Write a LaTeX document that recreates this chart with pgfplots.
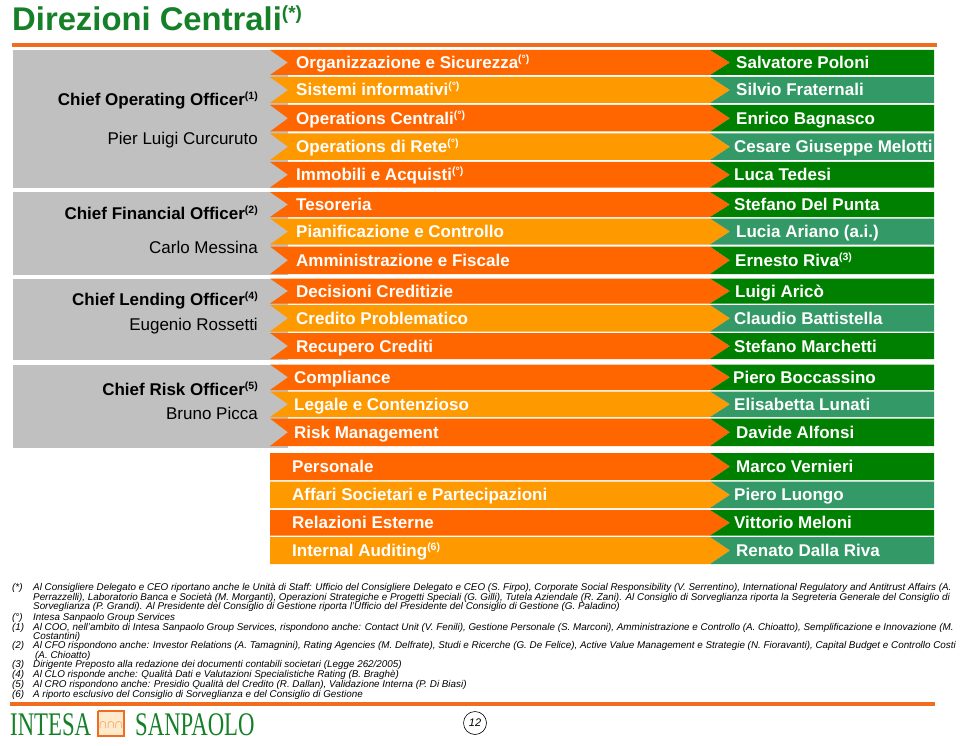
\documentclass[border=0pt]{standalone}
\usepackage{pgfplots}
\pgfplotsset{compat=1.18}
\usepackage{fontspec}
\setmainfont{Liberation Sans}
\newfontfamily\logofont{Liberation Serif}[FakeStretch=0.69]
\definecolor{oDark}{RGB}{255,102,0}
\definecolor{oLight}{RGB}{255,153,0}
\definecolor{gDark}{RGB}{0,128,0}
\definecolor{gLight}{RGB}{51,153,102}
\definecolor{cGray}{RGB}{192,192,192}
\definecolor{tGreen}{RGB}{22,128,40}
\definecolor{lOrange}{RGB}{240,108,30}
\newcommand\barfont{\fontsize{17}{20}\selectfont\bfseries}
\newcommand\sups[1]{\raisebox{6pt}{\fontsize{10.5}{11}\selectfont #1}}
% orange chevron bar: top, centre, bottom, colour
\newcommand\obar[4]{\addplot[fill=#4,draw=none] coordinates {(270,#1) (710,#1) (730,#2) (710,#3) (270,#3) (288,#2)};}
\newcommand\fbar[4]{\addplot[fill=#4,draw=none] coordinates {(270,#1) (710,#1) (730,#2) (710,#3) (270,#3)};}
\newcommand\gbar[4]{\addplot[fill=#4,draw=none] coordinates {(710,#1) (934,#1) (934,#3) (710,#3) (730,#2)};}
\newcommand\btext[3]{\node[anchor=base west,inner sep=0,text=white,font=\barfont] at (axis cs:#1,#2) {#3};}
\newcommand\ltext[3]{\node[anchor=base east,inner sep=0,text=black,font=#1] at (axis cs:258,#2) {#3};}
\newcommand\fn[3]{\node[anchor=base west,inner sep=0,font=\fontsize{9.85}{10}\selectfont\itshape] at (axis cs:#1,#2) {#3};}
\begin{document}
\begin{tikzpicture}
\begin{axis}[width=960pt,height=746pt,scale only axis,
  xmin=0,xmax=960,ymin=0,ymax=746,y dir=reverse,hide axis,clip=false]
% frame of the page (invisible, fixes the picture's extent)
\addplot[draw=none,fill=none] coordinates {(0,0) (960,0) (960,746) (0,746)};
% title line
\addplot[draw=lOrange,line width=4pt] coordinates {(12,45) (937,45)};
\addplot[draw=lOrange,line width=4pt] coordinates {(10,704) (935,704)};
% gray boxes
\addplot[fill=cGray,draw=none] coordinates {(13,50) (288,50) (288,188) (13,188)};
\addplot[fill=cGray,draw=none] coordinates {(13,192) (288,192) (288,275) (13,275)};
\addplot[fill=cGray,draw=none] coordinates {(13,278.5) (288,278.5) (288,360) (13,360)};
\addplot[fill=cGray,draw=none] coordinates {(13,364.5) (288,364.5) (288,448) (13,448)};
% orange bars
\obar{50}{62.5}{75}{oDark}
\obar{77}{90}{103}{oLight}
\obar{105}{118.25}{131.5}{oDark}
\obar{133.5}{146.75}{160}{oLight}
\obar{162}{174.75}{187.5}{oDark}
\obar{192}{204.5}{217}{oDark}
\obar{218.5}{231.5}{244.5}{oLight}
\obar{246.5}{260.25}{274}{oDark}
\obar{278.5}{291}{303.5}{oDark}
\obar{305}{318.25}{331.5}{oLight}
\obar{333}{346}{359}{oDark}
\obar{364.5}{377.25}{390}{oDark}
\obar{391.5}{404.25}{417}{oLight}
\obar{418.5}{432.25}{446}{oDark}
\fbar{453}{466.5}{480}{oDark}
\fbar{481.5}{494.75}{508}{oLight}
\fbar{510}{522.75}{535.5}{oDark}
\fbar{537}{550.5}{564}{oLight}
% green bars
\gbar{50}{62.5}{75}{gDark}
\gbar{77}{90}{103}{gLight}
\gbar{105}{118.25}{131.5}{gDark}
\gbar{133.5}{146.75}{160}{gLight}
\gbar{162}{174.75}{187.5}{gDark}
\gbar{192}{204.5}{217}{gDark}
\gbar{218.5}{231.5}{244.5}{gLight}
\gbar{246.5}{260.25}{274}{gDark}
\gbar{278.5}{291}{303.5}{gDark}
\gbar{305}{318.25}{331.5}{gLight}
\gbar{333}{346}{359}{gDark}
\gbar{364.5}{377.25}{390}{gDark}
\gbar{391.5}{404.25}{417}{gLight}
\gbar{418.5}{432.25}{446}{gDark}
\gbar{453}{466.5}{480}{gDark}
\gbar{481.5}{494.75}{508}{gLight}
\gbar{510}{522.75}{535.5}{gDark}
\gbar{537}{550.5}{564}{gLight}
% logo box
\addplot[draw=lOrange,fill=oLight!20,line width=1.5pt] coordinates {(98,711) (124,711) (124,736) (98,736) (98,711)};
% title
\node[anchor=base west,inner sep=0,text=tGreen,font=\fontsize{32.8}{36}\selectfont\bfseries] at (axis cs:12,31) {Direzioni Centrali\raisebox{11pt}{\fontsize{19}{20}\selectfont(*)}};
% bar texts
\btext{296}{68.5}{Organizzazione e Sicurezza\sups{(°)}}
\btext{296}{96}{Sistemi informativi\sups{(°)}}
\btext{296}{124.25}{Operations Centrali\sups{(°)}}
\btext{296}{152.75}{Operations di Rete\sups{(°)}}
\btext{296}{180.75}{Immobili e Acquisti\sups{(°)}}
\btext{296}{210.5}{Tesoreria}
\btext{296}{237.5}{Pianificazione e Controllo}
\btext{296}{266.25}{Amministrazione e Fiscale}
\btext{296}{297}{Decisioni Creditizie}
\btext{296}{324.25}{Credito Problematico}
\btext{296}{352}{Recupero Crediti}
\btext{294}{383.25}{Compliance}
\btext{294}{410.25}{Legale e Contenzioso}
\btext{294}{438.25}{Risk Management}
\btext{292}{472.5}{Personale}
\btext{292}{500.75}{Affari Societari e Partecipazioni}
\btext{292}{528.75}{Relazioni Esterne}
\btext{292}{556.5}{Internal Auditing\sups{(6)}}
% names
\btext{736}{68.5}{Salvatore Poloni}
\btext{736}{96}{Silvio Fraternali}
\btext{736}{124.25}{Enrico Bagnasco}
\btext{734}{152.75}{Cesare Giuseppe Melotti}
\btext{734}{180.75}{Luca Tedesi}
\btext{734}{210.5}{Stefano Del Punta}
\btext{736}{237.5}{Lucia Ariano (a.i.)}
\btext{735}{266.25}{Ernesto Riva\sups{(3)}}
\btext{735}{297}{Luigi Aricò}
\btext{734}{324.25}{Claudio Battistella}
\btext{734}{352}{Stefano Marchetti}
\btext{733}{383.25}{Piero Boccassino}
\btext{734}{410.25}{Elisabetta Lunati}
\btext{736}{438.25}{Davide Alfonsi}
\btext{736}{472.5}{Marco Vernieri}
\btext{734}{500.75}{Piero Luongo}
\btext{734}{528.75}{Vittorio Meloni}
\btext{736}{556.5}{Renato Dalla Riva}
% left column
\ltext{\barfont}{106}{Chief Operating Officer\sups{(1)}}
\ltext{\fontsize{17}{20}\selectfont}{145}{Pier Luigi Curcuruto}
\ltext{\barfont}{219}{Chief Financial Officer\sups{(2)}}
\ltext{\fontsize{17}{20}\selectfont}{253}{Carlo Messina}
\ltext{\barfont}{305}{Chief Lending Officer\sups{(4)}}
\ltext{\fontsize{17}{20}\selectfont}{330}{Eugenio Rossetti}
\ltext{\barfont}{395}{Chief Risk Officer\sups{(5)}}
\ltext{\fontsize{17}{20}\selectfont}{419}{Bruno Picca}
% footnotes
\fn{12}{590.5}{(*)}
\fn{33}{590.5}{Al Consigliere Delegato e CEO riportano anche le Unità di Staff: Ufficio del Consigliere Delegato e CEO (S. Firpo), Corporate Social Responsibility (V. Serrentino), International Regulatory and Antitrust Affairs (A.}
\fn{33}{600.5}{Perrazzelli), Laboratorio Banca e Società (M. Morganti), Operazioni Strategiche e Progetti Speciali (G. Gilli), Tutela Aziendale (R. Zani). Al Consiglio di Sorveglianza riporta la Segreteria Generale del Consiglio di}
\fn{33}{609.5}{Sorveglianza (P. Grandi). Al Presidente del Consiglio di Gestione riporta l'Ufficio del Presidente del Consiglio di Gestione (G. Paladino)}
\fn{12}{620.5}{(°)}
\fn{33}{620.5}{Intesa Sanpaolo Group Services}
\fn{12}{630.5}{(1)}
\fn{33}{630.5}{Al COO, nell'ambito di Intesa Sanpaolo Group Services, rispondono anche: Contact Unit (V. Fenili), Gestione Personale (S. Marconi), Amministrazione e Controllo (A. Chioatto), Semplificazione e Innovazione (M.}
\fn{33}{639.5}{Costantini)}
\fn{12}{648.5}{(2)}
\fn{33}{648.5}{Al CFO rispondono anche: Investor Relations (A. Tamagnini), Rating Agencies (M. Delfrate), Studi e Ricerche (G. De Felice), Active Value Management e Strategie (N. Fioravanti), Capital Budget e Controllo Costi}
\fn{35}{658.5}{(A. Chioatto)}
\fn{12}{667.5}{(3)}
\fn{33}{667.5}{Dirigente Preposto alla redazione dei documenti contabili societari (Legge 262/2005)}
\fn{12}{677.5}{(4)}
\fn{33}{677.5}{Al CLO risponde anche: Qualità Dati e Valutazioni Specialistiche Rating (B. Braghè)}
\fn{12}{687.5}{(5)}
\fn{33}{687.5}{Al CRO rispondono anche: Presidio Qualità del Credito (R. Dallan), Validazione Interna (P. Di Biasi)}
\fn{12}{697.5}{(6)}
\fn{33}{697.5}{A riporto esclusivo del Consiglio di Sorveglianza e del Consiglio di Gestione}
% logo
\node[anchor=base west,inner sep=0,text=tGreen,font=\logofont\fontsize{33}{34}\selectfont] at (axis cs:10,735) {INTESA};
\node[anchor=base west,inner sep=0,text=tGreen,font=\logofont\fontsize{33}{34}\selectfont] at (axis cs:135,735) {SANPAOLO};
\node[anchor=center,inner sep=0,text=lOrange,font=\fontsize{11}{11}\selectfont] at (axis cs:111,725) {$\cap\!\cap\!\cap$};
% page number
\node[circle,draw=black,line width=0.6pt,minimum size=23pt,inner sep=0,font=\fontsize{11}{11}\selectfont\itshape] at (axis cs:475,723) {12};
\end{axis}
\end{tikzpicture}
\end{document}
